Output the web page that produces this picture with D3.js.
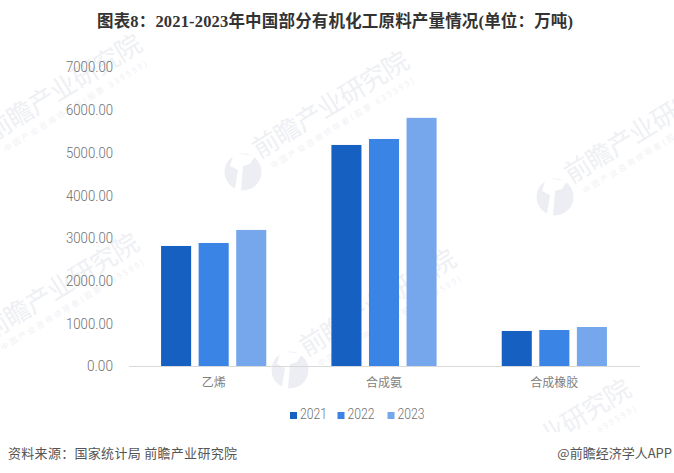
<!DOCTYPE html>
<html lang="zh"><head><meta charset="utf-8">
<script src="https://cdnjs.cloudflare.com/ajax/libs/d3/7.8.5/d3.min.js"></script>
<style>html,body{margin:0;padding:0;background:#fff}svg{display:block}</style></head>
<body><svg id="c" width="674" height="473"></svg>
<script>
const categories = ["乙烯", "合成氨", "合成橡胶"];
const years = ["2021", "2022", "2023"];
const values2021 = [2810, 5175, 820];
const values2022 = [2880, 5315, 843];
const values2023 = [3185, 5810, 913];
const yTicks = [0, 1000, 2000, 3000, 4000, 5000, 6000, 7000];
const colors = ["#1660c2", "#3a84e6", "#76a7ec"];
const titleText = "图表8：2021-2023年中国部分有机化工原料产量情况(单位：万吨)";
const sourceText = "资料来源：国家统计局 前瞻产业研究院";
const brandText = "@前瞻经济学人APP";
const wmName = "前瞻产业研究院";
const wmSub = "中国产业咨询领导者(股票 839599)";
const wmAnchors = [[-24,155],[243,172],[555,197],[-27,354],[290,370],[465,500]];

const svg = d3.select("#c");
const FONT = "'Noto Sans CJK SC','Noto Sans',sans-serif";
const NUM = "Roboto,'Noto Sans',sans-serif";
const series = [values2021, values2022, values2023];

// watermark
const wm = svg.append("g");
wmAnchors.forEach(([x,y])=>{
  const g = wm.append("g").attr("transform",`translate(${x},${y})`);
  g.append("circle").attr("r",18.5).attr("fill","#eceef3");
  g.append("path").attr("d","M-9,-19 L12,-16 L7,-8 L0,-6 L-2,19 L-8,17 L-5,-2 L-13,-6Z").attr("fill","#fff");
  g.append("text").attr("transform","translate(16.5,-13) rotate(-31.5)")
    .attr("font-family",FONT).attr("font-size",26)
    .attr("fill","#eef0f4").attr("textLength",178).text(wmName);
  g.append("text").attr("transform","translate(30,-3) rotate(-31.5)")
    .attr("font-family",FONT).attr("font-size",8)
    .attr("fill","#f0f1f5").attr("textLength",166).text(wmSub);
});
// white footer band covers the watermark below the chart
svg.append("rect").attr("x",0).attr("y",432).attr("width",674).attr("height",41).attr("fill","#fff");

const x = d3.scaleBand().domain(categories).range([128.5,639.5]);
const x1 = d3.scaleBand().domain(years).range([0,x.bandwidth()]).paddingInner(0.2).paddingOuter(0.867);
const y = d3.scaleLinear().domain([0,7000]).range([366,67]);

// bars
years.forEach((yr,i)=>{
  svg.append("g").selectAll("rect").data(series[i]).join("rect")
    .attr("x",(d,j)=>x(categories[j])+x1(yr))
    .attr("width",x1.bandwidth())
    .attr("y",d=>y(d))
    .attr("height",d=>y(0)-y(d))
    .attr("fill",colors[i]);
});

// y axis
const ya = svg.append("g").attr("transform","translate(113,0)")
  .call(d3.axisLeft(y).tickValues(yTicks).tickSize(0).tickPadding(0).tickFormat(d3.format(".2f")));
ya.select(".domain").remove();
ya.selectAll("text").attr("font-family",NUM).attr("font-weight",300).attr("font-size",15).attr("fill","#6f6f6f")
  .attr("lengthAdjust","spacingAndGlyphs").attr("textLength",d=>d===0?26:47).attr("dy","0.33em");

// x axis
const xa = svg.append("g").attr("transform","translate(0,366)")
  .call(d3.axisBottom(x).tickSize(0).tickPadding(12));
xa.select(".domain").attr("stroke","#d9d9d9").attr("stroke-width",1);
xa.selectAll("text").attr("font-family",FONT).attr("font-size",12).attr("fill","#7f7f7f");

// title
svg.append("text").attr("x",335).attr("y",26.5).attr("text-anchor","middle")
  .attr("font-family","'Liberation Serif','Noto Sans CJK SC',serif").attr("font-weight",700)
  .attr("font-size",16.5).attr("fill","#333").attr("textLength",476).text(titleText);

// legend
const legendX = d3.scaleOrdinal().domain(years).range([290,337.5,387.5]);
const lg = svg.append("g").selectAll("g").data(years).join("g")
  .attr("transform",d=>`translate(${legendX(d)},414)`);
lg.append("rect").attr("y",-2).attr("width",7).attr("height",7).attr("fill",(d,i)=>colors[i]);
lg.append("text").attr("x",10).attr("y",5.3).attr("font-family",NUM).attr("font-weight",300)
  .attr("font-size",15).attr("fill","#6f6f6f").attr("lengthAdjust","spacingAndGlyphs").attr("textLength",27).text(d=>d);

// footer
svg.append("text").attr("x",8).attr("y",458).attr("font-family",FONT).attr("font-size",13).attr("letter-spacing",0.3)
  .attr("fill","#555").text(sourceText);
svg.append("text").attr("x",672).attr("y",458).attr("text-anchor","end").attr("font-family",FONT).attr("font-size",13)
  .attr("fill","#555").text(brandText);
</script></body></html>
